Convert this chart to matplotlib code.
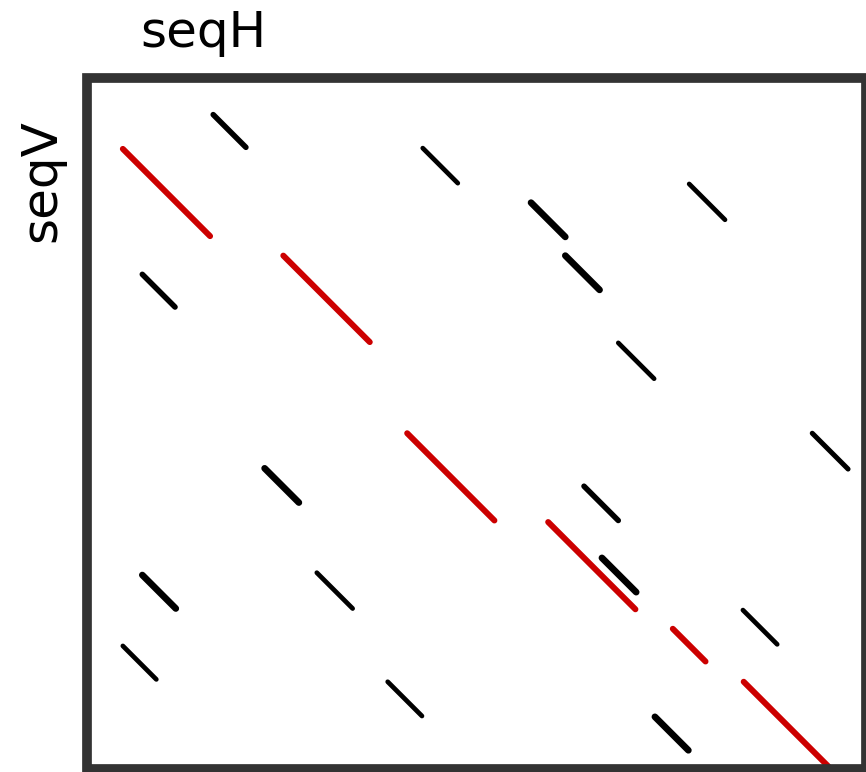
import matplotlib
matplotlib.use("Agg")
import matplotlib.pyplot as plt
from matplotlib.patches import Rectangle

# Dot-plot matches: start position on seqH, start position on seqV, match length
seq_h_len = 100.0
seq_v_len = 88.7

red_h = [4.6, 25.2, 41.1, 59.2, 75.2, 84.3]
red_v = [9.1, 22.8, 45.6, 57.0, 70.7, 77.5]
red_len = [11.2, 11.1, 11.2, 11.2, 4.2, 11.2]

black_h = [16.2, 7.1, 43.1, 57.0, 61.4, 77.3, 68.2, 93.1, 22.8, 29.5, 38.6,
           63.8, 66.1, 84.2, 72.9, 7.1, 4.6]
black_v = [4.7, 25.2, 9.0, 16.0, 22.8, 13.6, 34.0, 45.6, 50.1, 63.5, 77.5,
           52.4, 61.6, 68.3, 82.0, 63.8, 72.9]
black_len = [4.2, 4.2, 4.5, 4.4, 4.4, 4.6, 4.6, 4.6, 4.4, 4.6, 4.4,
             4.4, 4.4, 4.4, 4.3, 4.3, 4.3]
black_w = [4.0, 4.0, 3.4, 4.8, 4.8, 3.4, 3.4, 3.6, 4.8, 3.4, 3.4,
           4.0, 4.8, 3.4, 4.8, 4.8, 3.4]

W, H = 866, 772
fig = plt.figure(figsize=(W / 100, H / 100), dpi=100)
ax = fig.add_axes([87 / W, 1 - 769 / H, (866 - 87) / W, (769 - 78) / H])

for h, v, L in zip(red_h, red_v, red_len):
    ax.plot([h, h + L], [v, v + L], color="#cc0000", lw=4.3,
            solid_capstyle="round", zorder=2)
for h, v, L, w in zip(black_h, black_v, black_len, black_w):
    ax.plot([h, h + L], [v, v + L], color="black", lw=w,
            solid_capstyle="round", zorder=3)

ax.set_xlim(0, seq_h_len)
ax.set_ylim(seq_v_len, 0)
ax.set_xticks([])
ax.set_yticks([])
for s in ax.spines.values():
    s.set_visible(False)
ax.add_patch(Rectangle((0, 0), 1, 1, transform=ax.transAxes, fill=False,
                       edgecolor="#333333", lw=7.0, joinstyle="miter",
                       clip_on=False, zorder=5))

fig.text(203 / W, 1 - 47 / H, "seqH", fontsize=36, ha="center",
         va="baseline", family="DejaVu Sans")
fig.text(55 / W, 1 - 181 / H, "seqV", fontsize=36, ha="center",
         va="baseline", rotation=90, rotation_mode="anchor",
         family="DejaVu Sans")

fig.savefig("out.png", dpi=100)
